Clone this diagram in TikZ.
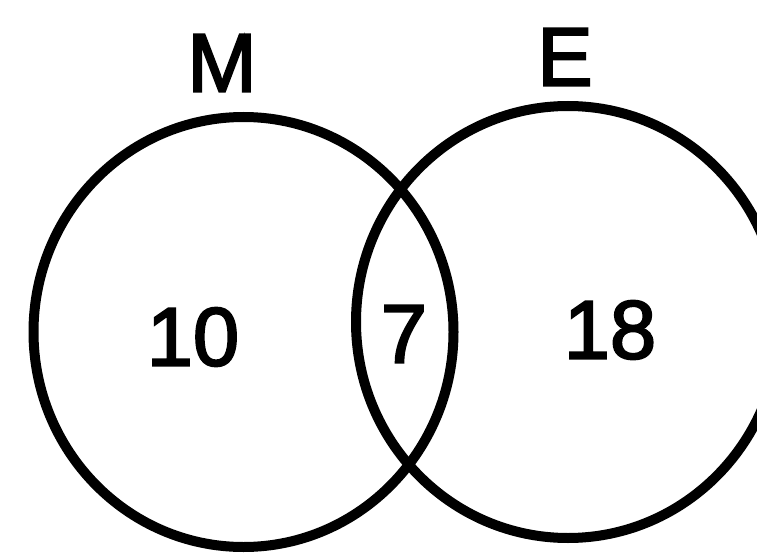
\documentclass[tikz,border=0pt]{standalone}
\usepackage{fontspec}
\setmainfont[FakeBold=2.5]{Liberation Sans}
\usetikzlibrary{shapes.geometric}
\begin{document}
\begin{tikzpicture}[x=1pt,y=-1pt,
  setline/.style={ellipse,line width=10pt,draw=black,inner sep=0pt},
  lbl/.style={inner sep=0pt,anchor=center,font=\fontsize{83}{83}\selectfont}]
\useasboundingbox (0,0) rectangle (757,553);
\fill[white] (0,0) rectangle (757,553);
\node[setline,minimum width=420pt,minimum height=430pt] (setM) at (243.5,332) {};
\node[setline,minimum width=424pt,minimum height=432pt] (setE) at (568,322) {};
\node[lbl] (M) at (222,63) {M};
\node[lbl] (E) at (565,57) {E};
\node[lbl] (ten) at (193,337) {10};
\node[lbl] (seven) at (404,334) {7};
\node[lbl] (eighteen) at (610,330) {18};
\end{tikzpicture}
\end{document}
